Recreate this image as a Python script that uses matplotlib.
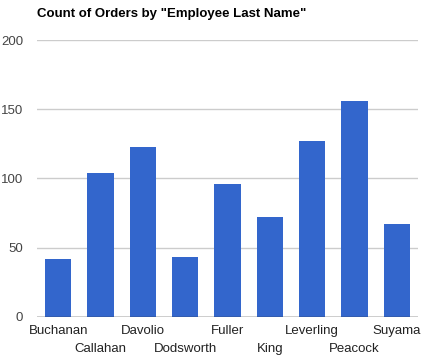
import matplotlib.pyplot as plt

plt.rcParams['font.family'] = ['Liberation Sans', 'DejaVu Sans']

employees = ["Buchanan", "Callahan", "Davolio", "Dodsworth", "Fuller",
             "King", "Leverling", "Peacock", "Suyama"]
order_counts = [42, 104, 123, 43, 96, 72, 127, 156, 67]
y_ticks = [0, 50, 100, 150, 200]

W, H = 421, 362
fig = plt.figure(figsize=(W / 100, H / 100), dpi=100)
ax = fig.add_axes([37 / W, 45.5 / H, 381 / W, 276 / H])

x = list(range(len(employees)))
ax.bar(x, order_counts, width=0.62, color="#3366cc", zorder=3)

ax.set_xlim(-0.5, len(employees) - 0.5)
ax.set_ylim(0, 200)
ax.set_yticks(y_ticks)
ax.set_yticklabels([str(v) for v in y_ticks], fontsize=9.5, color="#444444")
ax.grid(axis="y", color="#cccccc", linewidth=1, zorder=0)
ax.axhline(0, color="#333333", linewidth=1, zorder=4)

ax.set_xticks(x)
ax.set_xticklabels(employees, fontsize=9.5, color="#222222")
for i, t in enumerate(ax.xaxis.get_major_ticks()):
    t.set_pad(6 if i % 2 == 0 else 19)
ax.tick_params(axis="both", length=0)
ax.tick_params(axis="y", pad=10)

for s in ax.spines.values():
    s.set_visible(False)

fig.text(37 / W, 1 - 17 / H, 'Count of Orders by "Employee Last Name"',
         fontsize=9.5, fontweight="bold", va="baseline", ha="left")

fig.savefig("out.png", dpi=100)
